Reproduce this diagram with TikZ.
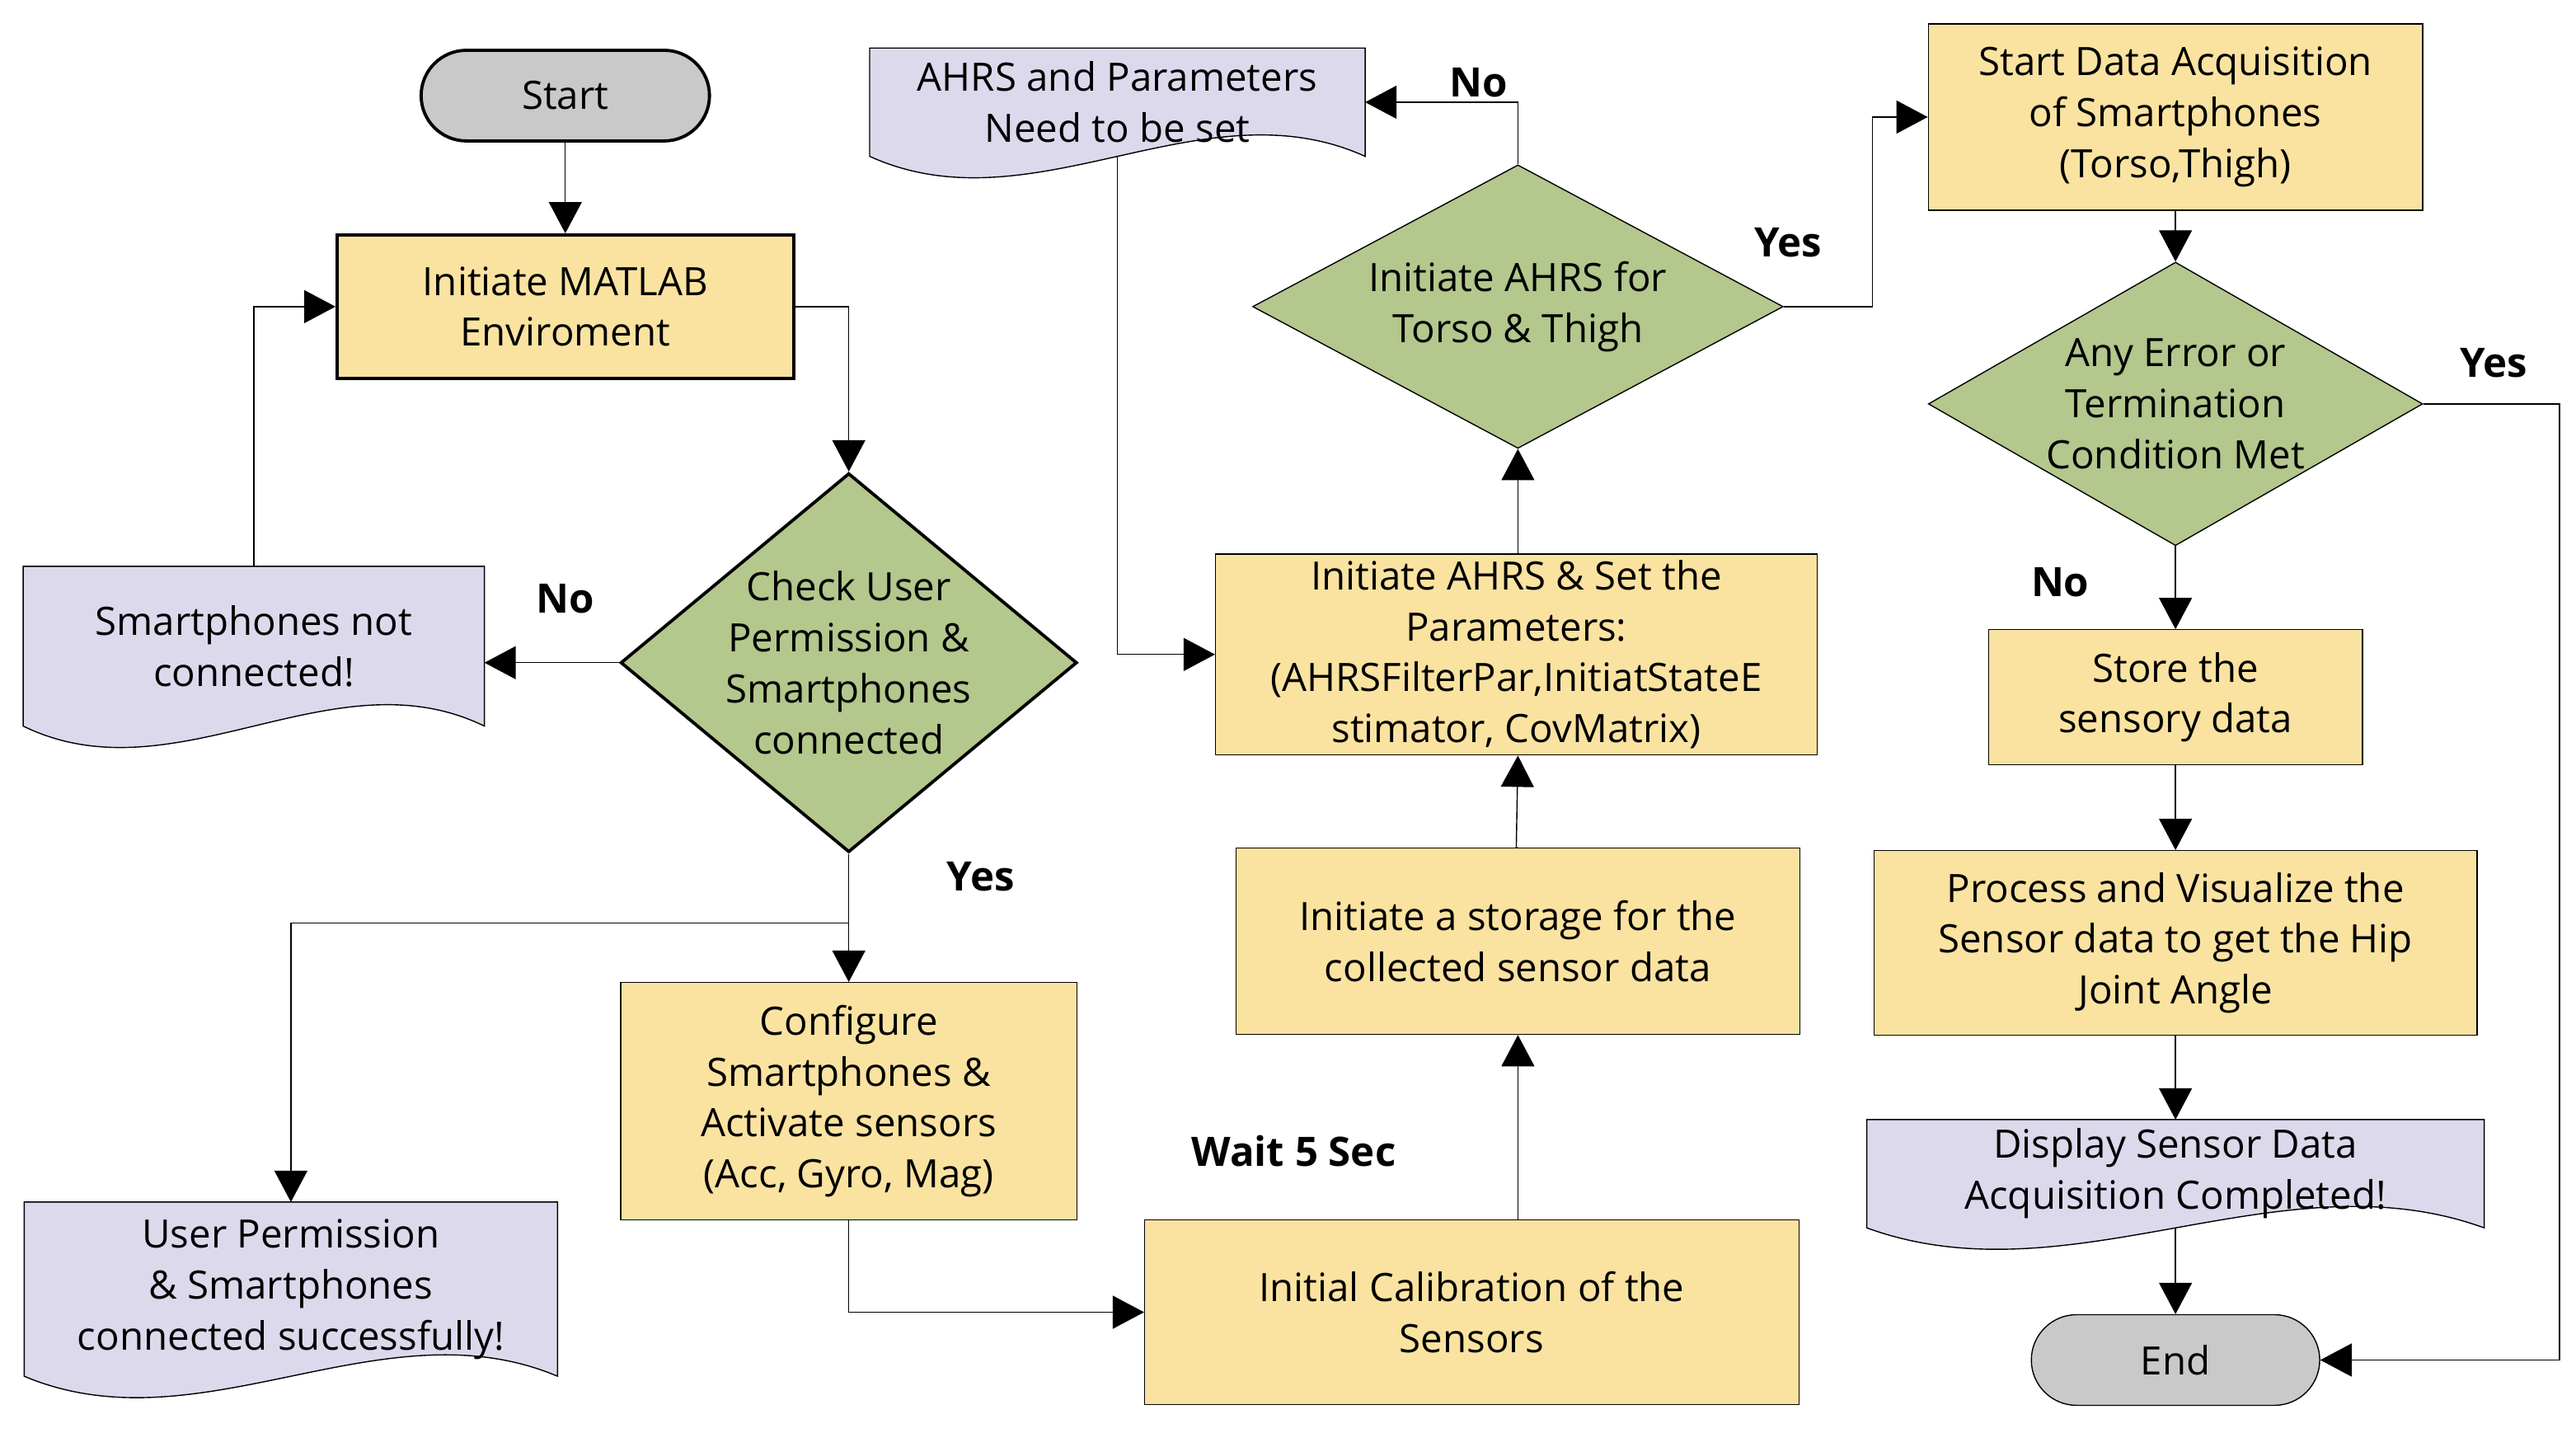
\documentclass[tikz,border=0pt]{standalone}
\usepackage{fontspec}
\setmainfont{Open Sans}
\usetikzlibrary{shapes.geometric,arrows.meta,backgrounds,calc}
\definecolor{yel}{HTML}{FAE3A0}
\definecolor{grn}{HTML}{B4C78C}
\definecolor{lav}{HTML}{DDD9EC}
\definecolor{gry}{HTML}{C9C9C9}
\begin{document}
\begin{tikzpicture}[x=0.02cm,y=-0.02cm,line width=1.1pt,
  every node/.style={font=\fontsize{13.5}{17.6}\selectfont,align=center},
  box/.style={draw,fill=yel,inner sep=2pt},
  dia/.style={draw,fill=grn,diamond,inner sep=0pt},
  term/.style={draw,fill=gry,rounded corners=0.55cm,inner sep=0pt},
  doc/.style={inner sep=0pt},
  arr/.style={-{Triangle[length=0.38cm,width=0.4cm]}},
  lab/.style={font=\fontsize{14}{17}\selectfont\bfseries}]
\newcommand\docbg[1]{\begin{pgfonlayer}{background}
 \draw[fill=lav] (#1.south west) -- (#1.north west) -- (#1.north east) -- (#1.south east)
 .. controls ($(#1.south east)!0.33!(#1.south west)+(0,-45)$) and ($(#1.south east)!0.67!(#1.south west)+(0,45)$) .. (#1.south west) -- cycle;
 \end{pgfonlayer}}
\useasboundingbox (0,0) rectangle (1563,869);
% nodes
\node[term,minimum width=3.5cm,minimum height=1.1cm] (start) at (343,58) {Start};
\node[box,minimum width=5.54cm,minimum height=1.74cm] (matlab) at (343,186) {Initiate MATLAB\\Enviroment};
\node[dia,minimum width=5.54cm,minimum height=4.6cm] (chk) at (515,402) {};
\node at (515,402) {Check User\\Permission \&\\Smartphones\\connected};
\node[doc,minimum width=5.56cm,minimum height=1.9cm] (snc) at (154,392) {Smartphones not\\connected!};
\docbg{snc}
\node[doc,minimum width=6.46cm,minimum height=2.1cm] (up) at (176.5,782) {User Permission\\\& Smartphones\\connected successfully!};
\docbg{up}
\node[box,minimum width=5.54cm,minimum height=2.88cm] (conf) at (515,668) {Configure\\Smartphones \&\\Activate sensors\\(Acc, Gyro, Mag)};
\node[box,minimum width=7.94cm,minimum height=2.24cm] (cal) at (893,796) {Initial Calibration of the\\Sensors};
\node[box,minimum width=6.84cm,minimum height=2.26cm] (stor) at (921,571) {Initiate a storage for the\\collected sensor data};
\node[box,minimum width=7.3cm,minimum height=2.44cm] (set) at (920,397) {Initiate AHRS \& Set the\\Parameters:\\(AHRSFilterPar,InitiatStateE\\stimator, CovMatrix)};
\node[dia,minimum width=6.44cm,minimum height=3.44cm] (ia) at (921,186) {};
\node at (921,186) {Initiate AHRS for\\Torso \& Thigh};
\node[doc,minimum width=6cm,minimum height=1.3cm] (par) at (678,62) {AHRS and Parameters\\Need to be set};
\docbg{par}
\node[box,minimum width=6cm,minimum height=2.26cm] (sda) at (1320,71) {Start Data Acquisition\\of Smartphones\\(Torso,Thigh)};
\node[dia,minimum width=6cm,minimum height=3.44cm] (err) at (1320,245) {};
\node at (1320,245) {Any Error or\\Termination\\Condition Met};
\node[box,minimum width=4.54cm,minimum height=1.64cm] (store) at (1320,423) {Store the\\sensory data};
\node[box,minimum width=7.32cm,minimum height=2.24cm] (proc) at (1320,572) {Process and Visualize the\\Sensor data to get the Hip\\Joint Angle};
\node[doc,minimum width=7.48cm,minimum height=1.3cm] (disp) at (1320,712) {Display Sensor Data\\Acquisition Completed!};
\docbg{disp}
\node[term,minimum width=3.5cm,minimum height=1.1cm] (end) at (1320,825) {End};
\coordinate (br) at (515,560);
\coordinate (er) at (1553,245);
% connectors
\draw[arr] (start) -- (matlab);
\draw[arr] (matlab.east) -| (chk.north);
\draw[arr] (chk.west) -- (snc.east|-chk.west);
\draw[arr] (snc.north) |- (matlab.west);
\draw[arr] (chk.south) -- (conf.north);
\draw[arr] (br) -| (up.north);
\draw[arr] (conf.south) |- (cal.west);
\draw[arr] (cal.north-|stor.south) -- (stor.south);
\draw[arr] (stor.north) -- (set.north|-stor.north) -- (set.south-|stor.north);
\draw[arr] (set.north-|ia.south) -- (ia.south);
\draw[arr] (ia.north) |- (par.east);
\draw[arr] (par.south) |- (set.west);
\draw[arr] (ia.east) -- (1136,186) |- (sda.west);
\draw[arr] (sda.south) -- (err.north);
\draw[arr] (err.south) -- (store.north);
\draw[arr] (err.east) -- (er) |- (end.east);
\draw[arr] (store) -- (proc);
\draw[arr] (proc) -- (disp);
\draw[arr] (disp.south) -- (end.north);
% labels
\node[lab] at (343,363) {No};
\node[lab] at (595,532) {Yes};
\node[lab] at (785,698) {Wait 5 Sec};
\node[lab] at (897,50) {No};
\node[lab] at (1085,147) {Yes};
\node[lab] at (1250,353) {No};
\node[lab] at (1513,220) {Yes};
\end{tikzpicture}
\end{document}
